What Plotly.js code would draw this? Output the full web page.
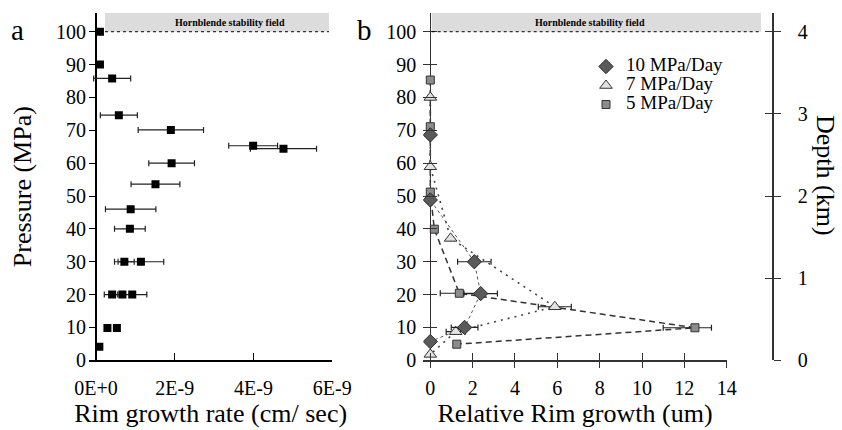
<!DOCTYPE html>
<html>
<head>
<meta charset="utf-8">
<script src="https://cdn.plot.ly/plotly-3.0.1.min.js"></script>
<style>
html,body{margin:0;padding:0;background:#fff;}
#chart{width:842px;height:430px;}
</style>
</head>
<body>
<div id="chart"></div>
<script>
// ---- Panel a: rim growth rate vs pressure ----
const rateA = [0.10e-9, 0.10e-9, 0.41e-9, 0.58e-9, 1.90e-9, 3.99e-9, 4.76e-9, 1.92e-9, 1.51e-9, 0.88e-9, 0.86e-9, 0.72e-9, 1.14e-9, 0.41e-9, 0.67e-9, 0.92e-9, 0.29e-9, 0.53e-9, 0.085e-9];
const pressA = [100, 90, 85.8, 74.6, 70.1, 65.3, 64.4, 60, 53.6, 46, 40, 30, 30, 20, 20, 20, 9.8, 9.8, 4.1];
const errA = [0, 0, 0.47e-9, 0.47e-9, 0.83e-9, 0.62e-9, 0.84e-9, 0.58e-9, 0.62e-9, 0.64e-9, 0.39e-9, 0.25e-9, 0.58e-9, 0.20e-9, 0, 0.37e-9, 0, 0, 0];
const rateTickVals = [0, 2e-9, 4e-9, 6e-9];
const rateTickText = ['0E+0', '2E-9', '4E-9', '6E-9'];

// ---- Panel b: relative rim growth vs pressure ----
const seriesNames = ['10 MPa/Day', '7 MPa/Day', '5 MPa/Day'];
const growth10 = [0, 0, 2.08, 2.38, 1.62, 0];
const press10 = [68.6, 48.8, 30, 20.3, 10, 5.7];
const err10 = [0, 0, 0.79, 0.79, 0.63, 0];

const growth7 = [0, 0, 0.96, 5.88, 1.2, 0];
const press7 = [80, 58.9, 37.1, 16.3, 8.7, 1.8];
const err7 = [0, 0, 0, 0.78, 0.45, 0];

const growth5 = [0, 0, 0, 0.19, 1.37, 12.5, 1.25];
const press5 = [85.3, 71.1, 51.2, 39.9, 20.4, 9.9, 4.9];
const err5Plus = [0, 0, 0, 0, 0.9, 0.78, 0];
const err5Minus = [0, 0, 0, 0, 0.9, 1.5, 0];

const depthTicks = [0, 1, 2, 3, 4];
const pressureTicks = [0, 10, 20, 30, 40, 50, 60, 70, 80, 90, 100];

const W = 842, H = 430;
const px = v => v / W, py = v => 1 - v / H;
const yTop = 105.7;
const yDom = [py(360.3), py(13)];
const serif = "Liberation Serif";

const errStyle = {color: '#222', thickness: 1.2, width: 3};

function lineTrace(x, y, line) {
  return {x: x, y: y, xaxis: 'x2', yaxis: 'y2', type: 'scatter', mode: 'lines', line: line,
          showlegend: false, hoverinfo: 'skip'};
}
function markerTrace(name, rank, x, y, marker, err) {
  return {name: '<span style="font-size:19px">' + name + '</span>', legendrank: rank,
          x: x, y: y, xaxis: 'x2', yaxis: 'y2', type: 'scatter', mode: 'markers',
          marker: marker, error_x: Object.assign({type: 'data', visible: true}, err, errStyle)};
}
// placeholder traces (no points) so that the overlay axes get drawn
function axisHolder(xa, ya) {
  return {x: [null], y: [null], xaxis: xa, yaxis: ya, type: 'scatter', mode: 'markers', showlegend: false, hoverinfo: 'skip'};
}

const traces = [
  {
    x: rateA, y: pressA, xaxis: 'x', yaxis: 'y', type: 'scatter', mode: 'markers',
    showlegend: false,
    marker: {symbol: 'square', size: 8, color: '#000'},
    error_x: Object.assign({type: 'data', array: errA, visible: true}, errStyle)
  },
  lineTrace(growth5, press5, {color: '#333', width: 1.5, dash: '6px,4px'}),
  lineTrace(growth7, press7, {color: '#444', width: 1.6, dash: '2px,5px'}),
  lineTrace(growth10, press10, {color: '#555', width: 1, dash: 'dot'}),
  markerTrace(seriesNames[2], 3, growth5, press5,
    {symbol: 'square', size: 8, color: '#8c8c8c', line: {color: '#333', width: 1}},
    {symmetric: false, array: err5Plus, arrayminus: err5Minus}),
  markerTrace(seriesNames[1], 2, growth7, press7,
    {symbol: 'triangle-up', size: 11, color: '#e2e2e2', line: {color: '#333', width: 1}},
    {array: err7}),
  markerTrace(seriesNames[0], 1, growth10, press10,
    {symbol: 'diamond', size: 11, color: '#5a5a5a', line: {color: '#2a2a2a', width: 1}},
    {array: err10}),
  axisHolder('x3', 'y2'),
  axisHolder('x2', 'y3'),
  axisHolder('x2', 'y4')
];

const tickFont = {family: serif, size: 20, color: '#000'};
const titleFont = {family: serif, size: 26, color: '#000'};
const axCommon = {showgrid: false, linecolor: '#000', tickcolor: '#000', tickfont: tickFont};

const layout = {
  width: W, height: H,
  margin: {l: 0, r: 0, t: 0, b: 0},
  paper_bgcolor: '#fff', plot_bgcolor: 'rgba(0,0,0,0)',
  font: {family: serif, color: '#000'},
  showlegend: true,
  legend: {x: px(586), y: py(52), xanchor: 'left', yanchor: 'top', bgcolor: 'rgba(0,0,0,0)',
           font: {family: serif, size: 12, color: '#000'}, tracegroupgap: 0, itemwidth: 30},
  xaxis: Object.assign({}, axCommon, {
    domain: [px(89), px(332.3)], range: [-0.178e-9, 6e-9], anchor: 'y',
    tickmode: 'array', tickvals: rateTickVals, ticktext: rateTickText,
    ticks: 'inside', ticklen: 7, showline: true, linewidth: 1.5,
    zeroline: true, zerolinecolor: '#000', zerolinewidth: 1.5, ticklabelstandoff: 9,
    title: {text: 'Rim growth rate (cm/ sec)', font: titleFont, standoff: 2}
  }),
  yaxis: Object.assign({}, axCommon, {
    domain: yDom, range: [0, yTop], anchor: 'x',
    tickmode: 'array', tickvals: pressureTicks,
    ticks: 'inside', ticklen: 7, showline: false, zeroline: false, ticklabelstandoff: 2,
    title: {text: 'Pressure (MPa)', font: titleFont, standoff: 16}
  }),
  xaxis2: Object.assign({}, axCommon, {
    domain: [px(423.3), px(726.7)], range: [-0.331, 14], anchor: 'y2',
    dtick: 2, tick0: 0, ticks: 'outside', ticklen: 6, showline: true, linewidth: 1.5, linecolor: '#333', tickcolor: '#333',
    zeroline: true, zerolinecolor: '#333', zerolinewidth: 1.5, ticklabelstandoff: 3,
    title: {text: 'Relative Rim growth (um)', font: titleFont, standoff: 2}
  }),
  xaxis3: {
    domain: [px(423.3), px(726.7)], range: [-0.331, 14], anchor: 'y2', overlaying: 'x2',
    dtick: 2, tick0: 0, ticks: 'inside', ticklen: 7, tickcolor: '#333', showticklabels: false,
    showline: false, zeroline: false, showgrid: false
  },
  yaxis2: Object.assign({}, axCommon, {
    domain: yDom, range: [0, yTop], anchor: 'x2',
    tickmode: 'array', tickvals: pressureTicks, tickcolor: '#333',
    ticks: 'inside', ticklen: 14, showline: false, zeroline: false, ticklabelstandoff: 6
  }),
  yaxis3: Object.assign({}, axCommon, {
    domain: yDom, range: [0, yTop / 25], overlaying: 'y2', side: 'right', anchor: 'free', position: px(772.3),
    tickmode: 'array', tickvals: depthTicks, ticks: 'outside', ticklen: 7,
    showline: true, linewidth: 1.5, linecolor: '#333', tickcolor: '#333', zeroline: false, ticklabelstandoff: 13
  }),
  yaxis4: {
    domain: yDom, range: [0, yTop / 25], overlaying: 'y2', side: 'right', anchor: 'free', position: px(772.3),
    tickmode: 'array', tickvals: depthTicks, ticks: 'inside', ticklen: 7, tickcolor: '#333',
    showticklabels: false, showline: false, zeroline: false, showgrid: false
  },
  shapes: [
    {type: 'rect', xref: 'paper', yref: 'y', x0: px(105), x1: px(329), y0: 100, y1: yTop, fillcolor: '#dcdcdc', line: {width: 0}, layer: 'below'},
    {type: 'line', xref: 'paper', yref: 'y', x0: px(105), x1: px(329), y0: 100, y1: 100, line: {color: '#000', width: 1, dash: 'dot'}},
    {type: 'rect', xref: 'paper', yref: 'y2', x0: px(431.7), x1: px(761), y0: 100, y1: yTop, fillcolor: '#dcdcdc', line: {width: 0}, layer: 'below'},
    {type: 'line', xref: 'paper', yref: 'y2', x0: px(431.7), x1: px(759), y0: 100, y1: 100, line: {color: '#000', width: 1, dash: 'dot'}}
  ],
  annotations: [
    {text: '<b>Hornblende stability field</b>', xref: 'paper', yref: 'paper', x: px(230), y: py(22.5), showarrow: false,
     font: {family: serif, size: 10, color: '#000'}, xanchor: 'center', yanchor: 'middle'},
    {text: '<b>Hornblende stability field</b>', xref: 'paper', yref: 'paper', x: px(590), y: py(22.5), showarrow: false,
     font: {family: serif, size: 10, color: '#000'}, xanchor: 'center', yanchor: 'middle'},
    {text: 'a', xref: 'paper', yref: 'paper', x: px(17), y: py(30), showarrow: false,
     font: {family: serif, size: 29, color: '#000'}, xanchor: 'center', yanchor: 'middle'},
    {text: 'b', xref: 'paper', yref: 'paper', x: px(364), y: py(30), showarrow: false,
     font: {family: serif, size: 29, color: '#000'}, xanchor: 'center', yanchor: 'middle'},
    {text: 'Depth (km)', xref: 'paper', yref: 'paper', x: px(826), y: py(175), showarrow: false, textangle: 90,
     font: {family: serif, size: 26, color: '#000'}, xanchor: 'center', yanchor: 'middle'}
  ]
};

Plotly.newPlot('chart', traces, layout, {displayModeBar: false, staticPlot: true}).then(function () {
  document.querySelectorAll('#chart text').forEach(function (t) {
    t.style.setProperty('font-family', "'Liberation Serif', serif", 'important');
  });
});
</script>
</body>
</html>
